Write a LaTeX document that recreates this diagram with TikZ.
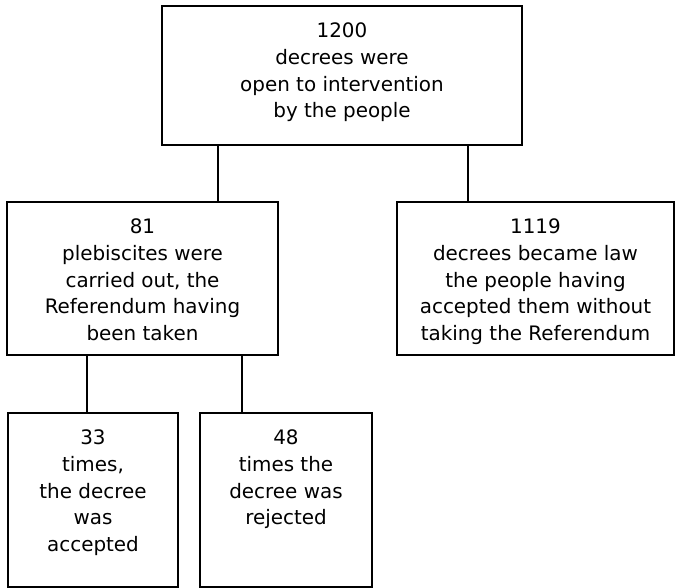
\documentclass[tikz,border=0pt]{standalone}
\usepackage{fontspec}
\setmainfont{DejaVu Sans}
\usetikzlibrary{positioning}

\tikzset{
  box/.style={draw,line width=1.6pt,rectangle,inner sep=0pt},
  txt/.style={anchor=north,align=center,inner sep=0pt,yshift=-15pt,
    font=\fontsize{17}{22.8}\selectfont},
  link/.style={line width=1.6pt}
}

\begin{document}
\begin{tikzpicture}
\useasboundingbox (0,0) rectangle (20.28,-17.64);
% boxes
\node[box,minimum width=10.8cm,minimum height=4.17cm,
  label={[txt]north:{1200\\decrees were\\open to intervention\\by the people}}]
  (top) at (10.26,-2.265) {};
\node[box,minimum width=8.13cm,minimum height=4.59cm,
  label={[txt]north:{81\\plebiscites were\\carried out, the\\Referendum having\\been taken}}]
  (c81) at (4.275,-8.355) {};
\node[box,minimum width=8.31cm,minimum height=4.59cm,
  label={[txt]north:{1119\\decrees became law\\the people having\\accepted them without\\taking the Referendum}}]
  (c1119) at (16.065,-8.355) {};
\node[box,minimum width=5.1cm,minimum height=5.22cm,
  label={[txt]north:{33\\times,\\the decree\\was\\accepted}}]
  (c33) at (2.79,-15.0) {};
\node[box,minimum width=5.16cm,minimum height=5.22cm,
  label={[txt]north:{48\\times the\\decree was\\rejected}}]
  (c48) at (8.58,-15.0) {};
% where the links run
\coordinate (xa) at (6.54,0);
\coordinate (xb) at (14.04,0);
\coordinate (xc) at (2.61,0);
\coordinate (xd) at (7.26,0);
% links
\draw[link] (top.south -| xa) -- (c81.north -| xa);
\draw[link] (top.south -| xb) -- (c1119.north -| xb);
\draw[link] (c81.south -| xc) -- (c33.north -| xc);
\draw[link] (c81.south -| xd) -- (c48.north -| xd);
\end{tikzpicture}
\end{document}
